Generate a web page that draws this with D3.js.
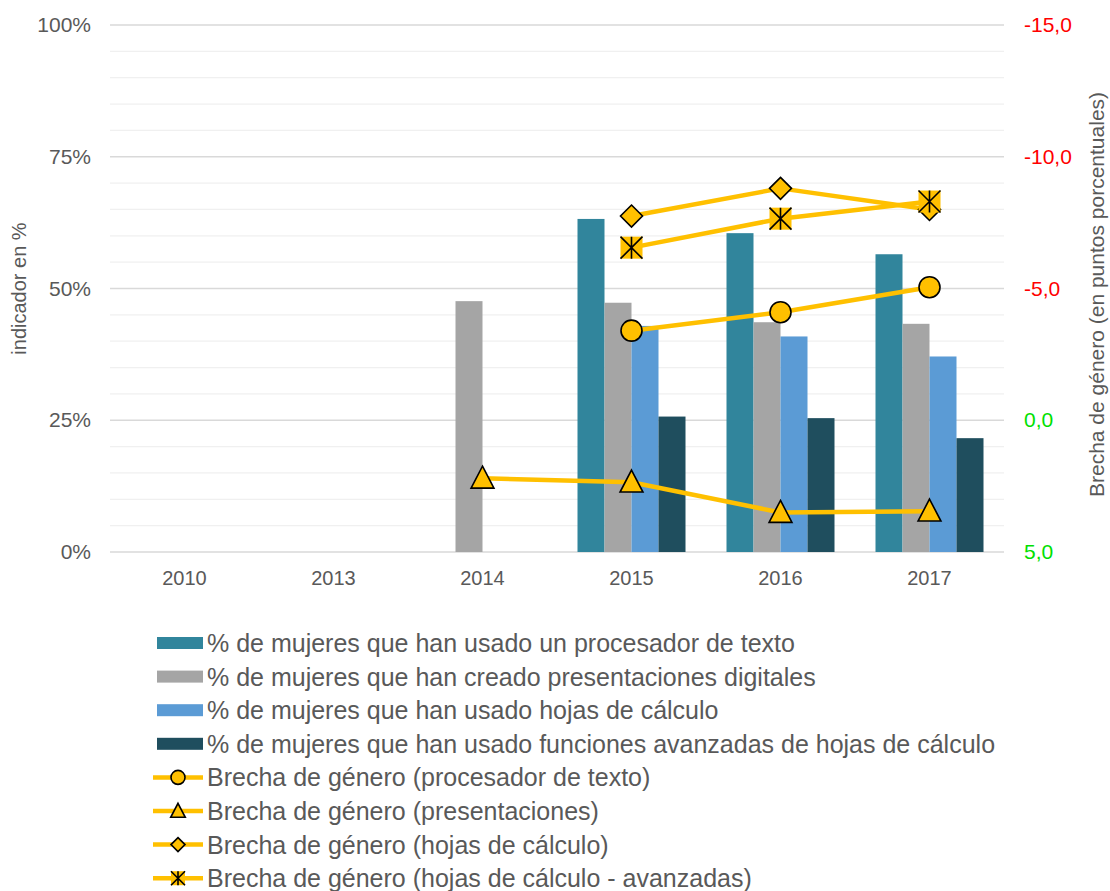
<!DOCTYPE html>
<html><head><meta charset="utf-8">
<script src="https://cdn.jsdelivr.net/npm/d3@7/dist/d3.min.js"></script>
<style>body{margin:0;background:#fff;} svg{display:block;font-family:"Liberation Sans",Arial,sans-serif;}</style>
</head><body>
<svg id="c" width="1110" height="891"></svg>
<script>
const categories = ["2010","2013","2014","2015","2016","2017"];
const barNames = [
  "% de mujeres que han usado un procesador de texto",
  "% de mujeres que han creado presentaciones digitales",
  "% de mujeres que han usado hojas de cálculo",
  "% de mujeres que han usado funciones avanzadas de hojas de cálculo"
];
const procesador = [null,null,null,63.2,60.5,56.5];
const presentaciones = [null,null,47.6,47.3,43.6,43.3];
const hojas = [null,null,null,42.9,40.9,37.1];
const avanzadas = [null,null,null,25.7,25.4,21.6];
const lineNames = [
  "Brecha de género (procesador de texto)",
  "Brecha de género (presentaciones)",
  "Brecha de género (hojas de cálculo)",
  "Brecha de género (hojas de cálculo - avanzadas)"
];
const brechaTexto = [null,null,null,-3.4,-4.1,-5.05];
const brechaPres = [null,null,2.2,2.35,3.5,3.45];
const brechaHojas = [null,null,null,-7.75,-8.8,-8.0];
const brechaAvanz = [null,null,null,-6.55,-7.65,-8.3];
const leftTicks = [0,25,50,75,100];
const rightTicks = [5,0,-5,-10,-15];

const barSeries = [procesador,presentaciones,hojas,avanzadas];
const barColors = ["#31859C","#A5A5A5","#5B9BD5","#1F4E5E"];
const lineSeries = [brechaTexto,brechaPres,brechaHojas,brechaAvanz];
const markers = ["circle","triangle","diamond","star"];

const svg = d3.select("#c");
const L=110,R=1004,T=25,B=552;
const x = d3.scaleBand().domain(categories).range([L,R]).padding(0);
const x1 = d3.scaleBand().domain(d3.range(4)).range([20.5, x.bandwidth()-20.5]);
const y = d3.scaleLinear().domain([0,100]).range([B,T]);
const y2 = d3.scaleLinear().domain([5,-15]).range([B,T]);
const FONT = "Liberation Sans, Arial, sans-serif";

// gridlines
const minor = d3.range(0,101,5);
svg.append("g").selectAll("line").data(minor).join("line")
  .attr("x1",L).attr("x2",R).attr("y1",d=>y(d)).attr("y2",d=>y(d))
  .attr("stroke",d=>d%25===0?"#D9D9D9":"#F0F0F0").attr("stroke-width",1.3);

// left axis
const la = svg.append("g").attr("transform",`translate(${L},0)`)
  .call(d3.axisLeft(y).tickValues(leftTicks).tickFormat(d=>d+"%").tickSize(0).tickPadding(19));
la.select(".domain").remove();
la.selectAll("text").attr("font-size",21).attr("fill","#595959").attr("font-family",FONT);

// right axis
const ra = svg.append("g").attr("transform",`translate(${R},0)`)
  .call(d3.axisRight(y2).tickValues(rightTicks).tickFormat(d=>d3.format(".1f")(d).replace(".",",").replace("−","-")).tickSize(0).tickPadding(20));
ra.select(".domain").remove();
ra.selectAll("text").attr("font-size",21).attr("fill",d=>d<0?"#FF0000":"#00E000").attr("font-family",FONT);

// x axis
const xa = svg.append("g").attr("transform",`translate(0,${B})`)
  .call(d3.axisBottom(x).tickSize(0).tickPadding(19));
xa.select(".domain").remove();
xa.selectAll("text").attr("font-size",20).attr("fill","#595959").attr("font-family",FONT);

// axis titles
svg.append("text").attr("transform",`translate(26,${(T+B)/2}) rotate(-90)`).attr("text-anchor","middle")
  .attr("font-size",20).attr("fill","#595959").text("indicador en %");
svg.append("text").attr("transform",`translate(1104,${(T+B)/2+6}) rotate(-90)`).attr("text-anchor","middle")
  .attr("font-size",21).attr("fill","#595959").text("Brecha de género (en puntos porcentuales)");

// bars
barSeries.forEach((vals,i)=>{
  svg.append("g").selectAll("rect").data(categories.map((c,j)=>({c,v:vals[j]})).filter(d=>d.v!=null))
    .join("rect").attr("x",d=>x(d.c)+x1(i)).attr("width",x1.bandwidth())
    .attr("y",d=>y(d.v)).attr("height",d=>y(0)-y(d.v)).attr("fill",barColors[i]);
});

function drawMarker(g,type,cx,cy,s){
  let el;
  if(type==="circle") el=g.append("circle").attr("cx",cx).attr("cy",cy).attr("r",s/2);
  else if(type==="triangle") el=g.append("path").attr("d",`M${cx},${cy-s*0.55}L${cx+s*0.52},${cy+s*0.45}L${cx-s*0.52},${cy+s*0.45}Z`);
  else if(type==="diamond") el=g.append("path").attr("d",`M${cx},${cy-s/2}L${cx+s/2},${cy}L${cx},${cy+s/2}L${cx-s/2},${cy}Z`);
  else {
    g.append("rect").attr("x",cx-s/2).attr("y",cy-s/2).attr("width",s).attr("height",s).attr("fill","#FFC000");
    const h=s/2;
    g.append("path").attr("d",`M${cx-h},${cy-h}L${cx+h},${cy+h}M${cx+h},${cy-h}L${cx-h},${cy+h}M${cx},${cy-h}L${cx},${cy+h}`)
      .attr("stroke","#000").attr("stroke-width",1.6).attr("fill","none");
    return;
  }
  el.attr("fill","#FFC000").attr("stroke","#000").attr("stroke-width",1.6);
}

const msize=[21,22,22,22];
lineSeries.forEach((vals,i)=>{
  const pts = categories.map((c,j)=>({c,v:vals[j]}));
  const g = svg.append("g");
  g.append("path").datum(pts).attr("fill","none").attr("stroke","#FFC000").attr("stroke-width",4.5)
    .attr("stroke-linejoin","round")
    .attr("d",d3.line().defined(d=>d.v!=null).x(d=>x(d.c)+x.bandwidth()/2).y(d=>y2(d.v)));
  pts.filter(d=>d.v!=null).forEach(d=>drawMarker(g,markers[i],x(d.c)+x.bandwidth()/2,y2(d.v),msize[i]));
});

// legend
const lg = svg.append("g");
const rowY = d3.range(8).map(i=>643+i*33.6);
barNames.forEach((n,i)=>{
  lg.append("rect").attr("x",157).attr("y",rowY[i]-6).attr("width",46).attr("height",12).attr("fill",barColors[i]);
  lg.append("text").attr("x",207).attr("y",rowY[i]).attr("dy","0.36em").attr("font-size",25).attr("fill","#595959").text(n);
});
lineNames.forEach((n,i)=>{
  const yy=rowY[4+i];
  lg.append("line").attr("x1",153).attr("x2",203).attr("y1",yy).attr("y2",yy).attr("stroke","#FFC000").attr("stroke-width",4.5);
  drawMarker(lg,markers[i],178,yy,14);
  lg.append("text").attr("x",207).attr("y",yy).attr("dy","0.36em").attr("font-size",25).attr("fill","#595959").text(n);
});
</script>
</body></html>
